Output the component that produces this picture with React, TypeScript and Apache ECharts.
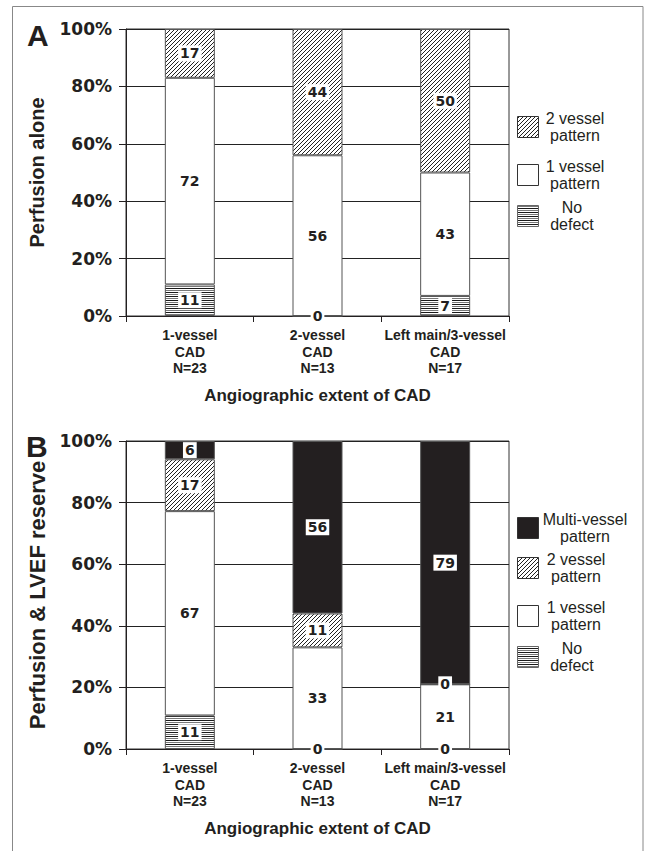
import React, { useEffect, useRef } from "react";
import * as echarts from "echarts";

// ---------- data ----------
const categories = ["1-vessel\nCAD\nN=23", "2-vessel\nCAD\nN=13", "Left main/3-vessel\nCAD\nN=17"];
const xAxisTitle = "Angiographic extent of CAD";
const yTitleA = "Perfusion alone";
const yTitleB = "Perfusion & LVEF reserve";

// Panel A (percent of patients)
const aNoDefect = [11, 0, 7];
const aOneVessel = [72, 56, 43];
const aTwoVessel = [17, 44, 50];

// Panel B (percent of patients)
const bNoDefect = [11, 0, 0];
const bOneVessel = [67, 33, 21];
const bTwoVessel = [17, 11, 0];
const bMultiVessel = [6, 56, 79];

const nameNoDefect = "No defect";
const nameOne = "1 vessel pattern";
const nameTwo = "2 vessel pattern";
const nameMulti = "Multi-vessel pattern";

// ---------- styles ----------
const INK = "#231f20";
const FONT = "Liberation Sans, Arial, sans-serif";
const NUM_FONT = "DejaVu Sans, sans-serif";

const svgUrl = (s: string) => "data:image/svg+xml;charset=utf-8," + encodeURIComponent(s);
const hatch = {
  image: svgUrl(
    "<svg xmlns='http://www.w3.org/2000/svg' width='4' height='4'><rect width='4' height='4' fill='white'/><path d='M-1,1 L1,-1 M0,4 L4,0 M3,5 L5,3' stroke='#222' stroke-width='1'/></svg>"
  ),
  repeat: "repeat",
  imageWidth: 4,
  imageHeight: 4,
};
const stripes = {
  image: svgUrl(
    "<svg xmlns='http://www.w3.org/2000/svg' width='4' height='4'><rect width='4' height='4' fill='white'/><rect x='0' y='0' width='4' height='1' fill='#1a1a1a'/><rect x='0' y='2' width='4' height='1' fill='#777'/></svg>"
  ),
  repeat: "repeat",
  imageWidth: 4,
  imageHeight: 4,
};

const fills: Record<string, any> = {
  [nameNoDefect]: stripes,
  [nameOne]: "#ffffff",
  [nameTwo]: hatch,
  [nameMulti]: INK,
};

function buildSeries(panel: number, names: string[], values: number[][]) {
  const totals = categories.map((_, i) => values.reduce((s, arr) => s + arr[i], 0));
  return names.map((name, k) => ({
    name,
    type: "bar",
    stack: "panel" + panel,
    xAxisIndex: panel,
    yAxisIndex: panel,
    barWidth: 50,
    data: values[k].map((v, i) => (v * 100) / totals[i]),
    itemStyle: { color: fills[name], borderColor: "#555", borderWidth: 1 },
    emphasis: { disabled: true },
    label: {
      show: true,
      position: "inside",
      formatter: (p: any) => String(values[k][p.dataIndex]),
      fontFamily: NUM_FONT,
      fontWeight: "bold",
      fontSize: 14,
      color: INK,
      backgroundColor: "#ffffff",
      padding: [1, 2],
    },
  }));
}

function legendGraphic(items: { name: string; text: string; y: number; tx: number }[]) {
  const out: any[] = [];
  items.forEach((it) => {
    out.push({
      type: "rect",
      shape: { x: 517.5, y: it.y + 0.5, width: 21, height: 21 },
      style: {
        fill: fills[it.name],
        stroke: it.name === nameNoDefect ? "#666" : "#333",
        lineWidth: 1,
      },
      silent: true,
    });
    out.push({
      type: "text",
      x: it.tx,
      y: it.y + 11,
      style: {
        text: it.text,
        fontFamily: FONT,
        fontSize: 16,
        lineHeight: 17,
        fill: INK,
        align: "center",
        verticalAlign: "middle",
      },
      silent: true,
    });
  });
  return out;
}

export default function App() {
  const ref = useRef<HTMLDivElement>(null);
  useEffect(() => {
    document.body.style.margin = "0";
    const chart = echarts.init(ref.current!, null, { renderer: "svg" });

    const grids = [
      { left: 126, top: 29, width: 383, height: 287 },
      { left: 126, top: 441, width: 383, height: 308 },
    ];

    const option: any = {
      animation: false,
      grid: grids.map((g) => ({ ...g, show: true, borderColor: "#333", borderWidth: 1, backgroundColor: "transparent" })),
      xAxis: [0, 1].map((i) => ({
        type: "category",
        gridIndex: i,
        data: categories,
        axisLine: { lineStyle: { color: INK, width: 1 } },
        axisTick: { show: true, length: 6, lineStyle: { color: INK } },
        axisLabel: {
          interval: 0,
          fontFamily: FONT,
          fontWeight: "bold",
          fontSize: 14,
          lineHeight: 16.5,
          margin: 11,
          color: INK,
        },
        name: xAxisTitle,
        nameLocation: "middle",
        nameGap: 71,
        nameTextStyle: { fontFamily: FONT, fontWeight: "bold", fontSize: 17, color: INK },
      })),
      yAxis: [0, 1].map((i) => ({
        type: "value",
        gridIndex: i,
        min: 0,
        max: 100,
        interval: 20,
        axisLine: { show: true, lineStyle: { color: INK, width: 1 } },
        axisTick: { show: true, length: 7, lineStyle: { color: INK } },
        axisLabel: {
          formatter: "{value}%",
          fontFamily: NUM_FONT,
          fontWeight: "bold",
          fontSize: 17,
          margin: 14,
          color: INK,
        },
        splitLine: { show: true, lineStyle: { color: "#222", width: 1 } },
        name: i === 0 ? yTitleA : yTitleB,
        nameLocation: "middle",
        nameGap: i === 0 ? 79 : 78,
        nameTextStyle: { fontFamily: FONT, fontWeight: "bold", fontSize: i === 0 ? 20 : 22, color: INK },
      })),
      series: [
        ...buildSeries(0, [nameNoDefect, nameOne, nameTwo], [aNoDefect, aOneVessel, aTwoVessel]),
        ...buildSeries(1, [nameNoDefect, nameOne, nameTwo, nameMulti], [bNoDefect, bOneVessel, bTwoVessel, bMultiVessel]),
      ],
      graphic: [
        {
          type: "rect",
          shape: { x: 12.5, y: 6.5, width: 630.5, height: 900 },
          style: { fill: "none", stroke: "#888", lineWidth: 1 },
          silent: true,
          z: -10,
        },
        {
          type: "text",
          x: 27,
          y: 35,
          style: { text: "A", fontFamily: FONT, fontWeight: "bold", fontSize: 30, fill: INK, verticalAlign: "middle" },
          silent: true,
        },
        {
          type: "text",
          x: 26,
          y: 446,
          style: { text: "B", fontFamily: FONT, fontWeight: "bold", fontSize: 30, fill: INK, verticalAlign: "middle" },
          silent: true,
        },
        ...legendGraphic([
          { name: nameTwo, text: "2 vessel\npattern", y: 116, tx: 575 },
          { name: nameOne, text: "1 vessel\npattern", y: 164, tx: 575 },
          { name: nameNoDefect, text: "No\ndefect", y: 205, tx: 572 },
        ]),
        ...legendGraphic([
          { name: nameMulti, text: "Multi-vessel\npattern", y: 517, tx: 585 },
          { name: nameTwo, text: "2 vessel\npattern", y: 557, tx: 576 },
          { name: nameOne, text: "1 vessel\npattern", y: 605, tx: 576 },
          { name: nameNoDefect, text: "No\ndefect", y: 646, tx: 572 },
        ]),
      ],
    };
    chart.setOption(option);
    return () => chart.dispose();
  }, []);
  return <div ref={ref} style={{ width: 645, height: 851, background: "#fff" }} />;
}
